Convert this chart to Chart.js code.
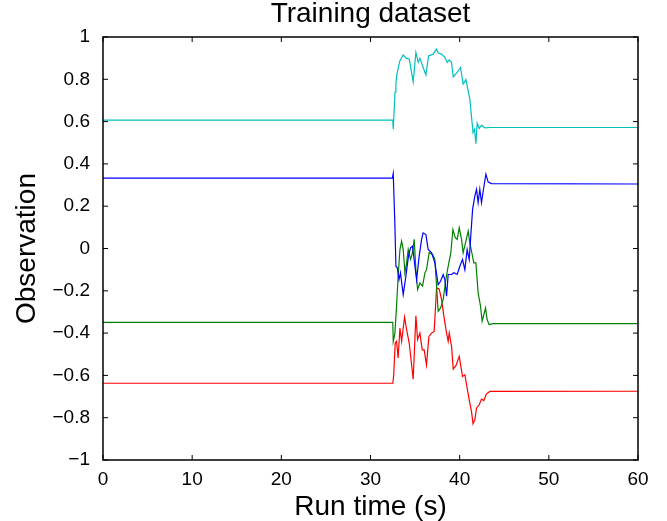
<!DOCTYPE html>
<html>
<head>
<meta charset="utf-8">
<script src="https://cdn.jsdelivr.net/npm/chart.js@4"></script>
<style>
  body { margin: 0; background: #fff; }
</style>
</head>
<body>
<canvas id="myChart" width="667" height="521"></canvas>
<script>
// time (s) and observation values
const blueTime = [0, 32.45, 32.55, 32.74, 32.85, 33.0, 33.2, 33.36, 33.67, 33.97, 34.26, 34.49, 34.71, 34.98, 35.17, 35.46, 35.73, 35.9, 36.21, 36.47, 36.85, 37.22, 37.59, 37.86, 38.15, 38.34, 38.53, 38.71, 39.09, 39.35, 39.72, 40.02, 40.32, 40.58, 40.84, 41.07, 41.22, 41.45, 41.7, 41.89, 42.07, 42.26, 42.45, 42.64, 42.94, 43.2, 43.57, 60];
const blueObs = [0.333, 0.333, 0.355, 0.106, -0.084, -0.091, -0.147, -0.115, -0.218, -0.131, -0.036, 0.003, 0.011, -0.084, -0.147, -0.036, 0.043, 0.074, 0.066, -0.005, -0.02, -0.068, -0.171, -0.155, -0.123, -0.147, -0.226, -0.123, -0.123, -0.115, -0.123, -0.084, -0.052, -0.1, -0.005, -0.052, 0.043, 0.185, 0.248, 0.28, 0.217, 0.28, 0.217, 0.272, 0.351, 0.314, 0.307, 0.305];

const greenTime = [0, 32.5, 32.55, 32.74, 32.92, 33.1, 33.3, 33.49, 33.67, 33.86, 34.05, 34.23, 34.49, 34.71, 34.9, 35.09, 35.28, 35.54, 35.84, 36.1, 36.28, 36.58, 36.96, 37.22, 37.41, 37.59, 37.86, 38.15, 38.45, 38.71, 39.01, 39.24, 39.5, 39.72, 39.95, 40.21, 40.39, 40.7, 40.96, 41.14, 41.33, 41.59, 41.82, 42.07, 42.34, 42.52, 42.71, 42.9, 43.08, 43.3, 43.75, 60];
const greenObs = [-0.349, -0.349, -0.439, -0.4, -0.273, -0.131, -0.005, 0.035, -0.005, -0.115, -0.068, -0.005, -0.052, -0.02, 0.043, -0.1, -0.194, -0.163, -0.178, -0.115, -0.1, -0.02, -0.028, -0.052, -0.178, -0.297, -0.281, -0.242, -0.147, -0.084, -0.02, 0.09, 0.051, 0.043, 0.098, 0.043, -0.02, 0.035, 0.082, 0.027, -0.013, -0.068, -0.068, -0.21, -0.273, -0.344, -0.313, -0.281, -0.336, -0.36, -0.355, -0.355];

const redTime = [0, 32.5, 32.6, 32.77, 32.92, 33.1, 33.3, 33.49, 33.82, 34.05, 34.34, 34.79, 35.09, 35.28, 35.54, 35.8, 36.02, 36.28, 36.55, 36.85, 37.14, 37.41, 37.7, 37.97, 38.23, 38.53, 38.71, 38.83, 39.09, 39.28, 39.58, 39.95, 40.32, 40.58, 40.84, 41.14, 41.33, 41.5, 41.7, 41.89, 42.19, 42.45, 42.71, 43.01, 43.39, 60];
const redObs = [-0.637, -0.637, -0.6, -0.447, -0.439, -0.518, -0.376, -0.439, -0.324, -0.384, -0.447, -0.618, -0.318, -0.431, -0.4, -0.479, -0.479, -0.55, -0.416, -0.4, -0.392, -0.186, -0.191, -0.242, -0.321, -0.4, -0.439, -0.4, -0.463, -0.57, -0.554, -0.51, -0.605, -0.597, -0.66, -0.731, -0.771, -0.829, -0.81, -0.755, -0.739, -0.712, -0.719, -0.687, -0.676, -0.675];

const cyanTime = [0, 32.5, 32.55, 32.75, 32.85, 33.0, 33.3, 33.67, 34.05, 34.34, 34.79, 35.09, 35.35, 35.54, 35.84, 36.21, 36.51, 37.03, 37.41, 37.59, 37.97, 38.34, 38.6, 38.83, 39.09, 39.28, 39.72, 40.1, 40.39, 40.7, 41.14, 41.5, 41.67, 41.82, 41.96, 42.19, 42.45, 42.83, 43.39, 60];
const cyanObs = [0.607, 0.607, 0.564, 0.74, 0.785, 0.833, 0.888, 0.915, 0.899, 0.896, 0.788, 0.927, 0.88, 0.899, 0.864, 0.82, 0.911, 0.919, 0.943, 0.924, 0.919, 0.904, 0.88, 0.892, 0.88, 0.812, 0.833, 0.856, 0.777, 0.798, 0.706, 0.548, 0.564, 0.496, 0.592, 0.567, 0.583, 0.57, 0.572, 0.572];

const xTicks = [0, 10, 20, 30, 40, 50, 60];
const yTicks = [-1, -0.8, -0.6, -0.4, -0.2, 0, 0.2, 0.4, 0.6, 0.8, 1];

const font = "'Liberation Sans', Arial, Helvetica, sans-serif";

function pairs(ts, vs) {
  return ts.map((t, i) => ({ x: t, y: vs[i] }));
}

function line(ts, vs, color) {
  return {
    data: pairs(ts, vs),
    borderColor: color,
    borderWidth: 1.2,
    pointRadius: 0,
    tension: 0,
    fill: false,
  };
}

// matlab style box with ticks pointing inwards on all four sides
const frame = {
  id: 'frame',
  afterDatasetsDraw(chart) {
    const { ctx, chartArea: a, scales: { x, y } } = chart;
    ctx.save();
    ctx.strokeStyle = '#000';
    ctx.lineWidth = 1.5;
    ctx.strokeRect(a.left, a.top, a.right - a.left, a.bottom - a.top);
    ctx.lineWidth = 1;
    ctx.beginPath();
    xTicks.forEach(v => {
      const px = x.getPixelForValue(v);
      ctx.moveTo(px, a.bottom); ctx.lineTo(px, a.bottom - 5);
      ctx.moveTo(px, a.top); ctx.lineTo(px, a.top + 5);
    });
    yTicks.forEach(v => {
      const py = y.getPixelForValue(v);
      ctx.moveTo(a.left, py); ctx.lineTo(a.left + 5, py);
      ctx.moveTo(a.right, py); ctx.lineTo(a.right - 5, py);
    });
    ctx.stroke();
    ctx.restore();
  }
};

const ctx = document.getElementById('myChart').getContext('2d');
const myChart = new Chart(ctx, {
  type: 'line',
  data: {
    datasets: [
      line(blueTime, blueObs, '#0000ff'),
      line(greenTime, greenObs, '#008000'),
      line(redTime, redObs, '#ff0000'),
      line(cyanTime, cyanObs, '#00bfbf'),
    ]
  },
  options: {
    responsive: false,
    animation: false,
    layout: { padding: { left: 0, right: 29, top: 0, bottom: 0 } },
    plugins: {
      legend: { display: false },
      tooltip: { enabled: false },
      title: {
        display: true,
        fullSize: false,
        text: 'Training dataset',
        color: '#000',
        font: { family: font, size: 28, weight: 'normal', lineHeight: 1 },
        padding: { top: 0, bottom: 9 },
      },
    },
    scales: {
      x: {
        type: 'linear',
        min: 0,
        max: 60,
        grid: { display: false },
        border: { display: false },
        afterBuildTicks: s => { s.ticks = xTicks.map(v => ({ value: v })); },
        afterFit: s => { s.height = 61; },
        ticks: {
          color: '#000',
          padding: 0,
          maxRotation: 0,
          font: { family: font, size: 19 },
        },
        title: {
          display: true,
          text: 'Run time (s)',
          color: '#000',
          font: { family: font, size: 28, lineHeight: 1 },
          padding: { top: 16, bottom: 0 },
        },
      },
      y: {
        min: -1,
        max: 1,
        grid: { display: false },
        border: { display: false },
        afterBuildTicks: s => { s.ticks = yTicks.map(v => ({ value: v })); },
        afterFit: s => { s.width = 103; },
        ticks: {
          color: '#000',
          padding: 5,
          font: { family: font, size: 19 },
          callback: v => {
            const r = Math.round(v * 10) / 10;
            return r < 0 ? '\u2212' + Math.abs(r) : String(r);
          },
        },
        title: {
          display: true,
          text: 'Observation',
          color: '#000',
          font: { family: font, size: 28, lineHeight: 1 },
          padding: { top: 13, bottom: 0 },
        },
      },
    },
  },
  plugins: [frame],
});
</script>
</body>
</html>
